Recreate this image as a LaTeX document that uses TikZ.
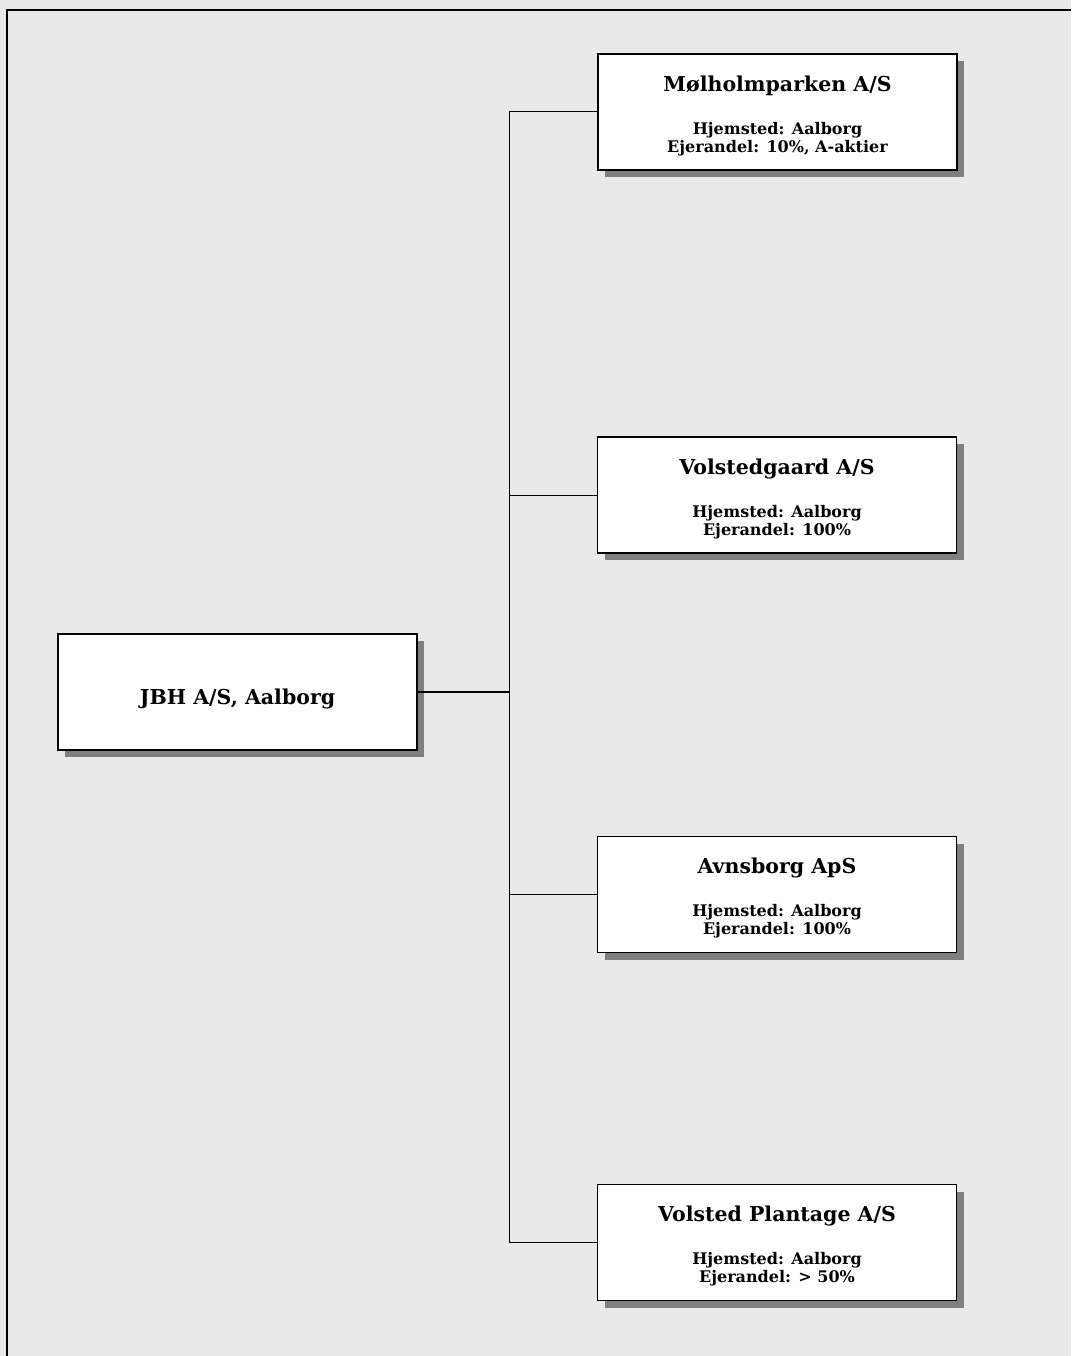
\documentclass[tikz,border=0pt]{standalone}
\usepackage{fontspec}
\setmainfont{DejaVu Serif}
\usetikzlibrary{shadows}
\definecolor{bggray}{HTML}{E9E9E9}
\definecolor{shgray}{HTML}{7F7F7F}
\tikzset{
  company/.style={draw=black, line width=1.8pt, fill=white, minimum width=359pt, minimum height=116pt,
    inner sep=0pt,
    drop shadow={shadow xshift=7pt, shadow yshift=-7pt, fill=shgray, opacity=1}},
  ttl/.style={anchor=base, inner sep=0pt, font=\bfseries\fontsize{20.5}{24}\selectfont},
  sub/.style={anchor=base, inner sep=0pt, font=\bfseries\fontsize{16}{19}\selectfont},
  link/.style={draw=black, line width=1pt},
}
\begin{document}
\begin{tikzpicture}[x=1pt,y=-1pt]
\fill[bggray] (0,0) rectangle (1071,1356);
\useasboundingbox (0,0) rectangle (1071,1356);
\draw[line width=2pt] (7,1356) -- (7,10) -- (1071,10);

\node[company] (jbh) at (237.5,692) {};
\node[ttl] (jbht) at ([yshift=-12pt]jbh.center) {JBH A/S, Aalborg};

\node[company] (m) at (777.5,112) {};
\node[ttl] (mt) at ([yshift=-38pt]m.north) {Mølholmparken A/S};
\node[sub] (m1) at ([yshift=-81pt]m.north) {Hjemsted: Aalborg};
\node[sub] (m2) at ([yshift=-99pt]m.north) {Ejerandel: 10\%, A-aktier};

\node[company] (v) at (777,495) {};
\node[ttl] (vt) at ([yshift=-38pt]v.north) {Volstedgaard A/S};
\node[sub] (v1) at ([yshift=-81pt]v.north) {Hjemsted: Aalborg};
\node[sub] (v2) at ([yshift=-99pt]v.north) {Ejerandel: 100\%};

\node[company] (a) at (777,894.5) {};
\node[ttl] (at) at ([yshift=-38pt]a.north) {Avnsborg ApS};
\node[sub] (a1) at ([yshift=-81pt]a.north) {Hjemsted: Aalborg};
\node[sub] (a2) at ([yshift=-99pt]a.north) {Ejerandel: 100\%};

\node[company] (p) at (777,1242.5) {};
\node[ttl] (pt) at ([yshift=-38pt]p.north) {Volsted Plantage A/S};
\node[sub] (p1) at ([yshift=-81pt]p.north) {Hjemsted: Aalborg};
\node[sub] (p2) at ([yshift=-99pt]p.north) {Ejerandel: > 50\%};

\coordinate (j) at (509,692);
\draw[link, line width=1.6pt] (jbh.east) -- (j);
\draw[link] (m.west) -| (j);
\draw[link] (p.west) -| (j);
\draw[link] (v.west) -- (v.west -| j);
\draw[link] (a.west) -- (a.west -| j);
\end{tikzpicture}
\end{document}
